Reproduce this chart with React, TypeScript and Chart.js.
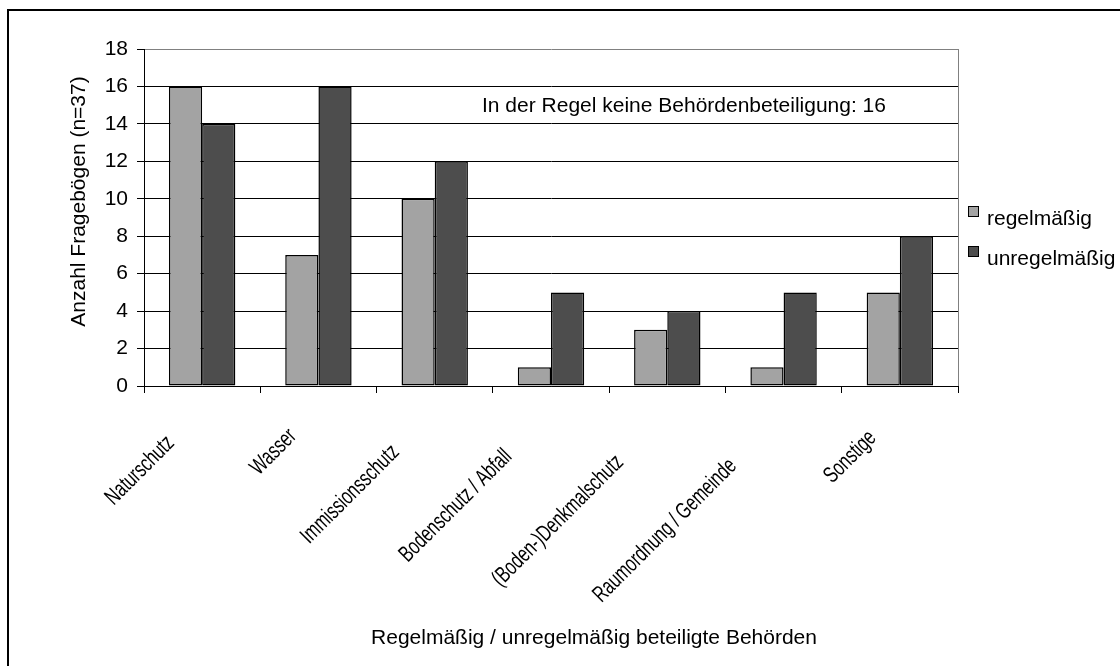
import { useEffect, useRef } from "react";
import { Chart, registerables } from "chart.js";

Chart.register(...registerables);

const FONT = "'Liberation Sans', Arial, sans-serif";

const categories = [
  "Naturschutz",
  "Wasser",
  "Immissionsschutz",
  "Bodenschutz / Abfall",
  "(Boden-)Denkmalschutz",
  "Raumordnung / Gemeinde",
  "Sonstige",
];
const seriesNames = ["regelmäßig", "unregelmäßig"];
const regelmaessig = [16, 7, 10, 1, 3, 1, 5];
const unregelmaessig = [14, 16, 12, 5, 4, 5, 8];
const seriesColors = ["#a3a3a3", "#4d4d4d"];
const yMin = 0;
const yMax = 18;
const yStep = 2;
const yAxisTitle = "Anzahl Fragebögen (n=37)";
const xAxisTitle = "Regelmäßig / unregelmäßig beteiligte Behörden";
const noteText = "In der Regel keine Behördenbeteiligung: 16";
const noteValue = 15;

const decor = {
  id: "decor",
  afterDraw(chart: any) {
    const { ctx, chartArea: ca, scales } = chart;
    const xs = scales.x;
    const ys = scales.y;
    ctx.save();

    // grey plot-area right border
    ctx.strokeStyle = "#808080";
    ctx.lineWidth = 1;
    ctx.beginPath();
    ctx.moveTo(Math.round(ca.right) + 0.5, ca.top);
    ctx.lineTo(Math.round(ca.right) + 0.5, ca.bottom);
    ctx.stroke();

    ctx.fillStyle = "#000";

    // rotated, condensed category labels
    ctx.font = `23px ${FONT}`;
    const sx = 0.71;
    const h = 15;
    categories.forEach((lab, i) => {
      const cx = xs.getPixelForTick(i);
      const w = ctx.measureText(lab).width * sx;
      const dx = 0.7071 * (w + h);
      const xmax = cx - 8.3 - 0.257 * dx;
      const ymin = ca.bottom + 25.5 + 0.307 * dx;
      ctx.save();
      ctx.translate(xmax, ymin + 0.7071 * h);
      ctx.rotate(-Math.PI / 4);
      ctx.scale(sx, 1);
      ctx.textAlign = "right";
      ctx.textBaseline = "alphabetic";
      ctx.fillText(lab, 0, 0);
      ctx.restore();
    });

    // y axis title
    ctx.font = `21px ${FONT}`;
    ctx.save();
    ctx.translate(ca.left - 65, (ca.top + ca.bottom) / 2 - 16);
    ctx.rotate(-Math.PI / 2);
    ctx.textAlign = "center";
    ctx.textBaseline = "middle";
    ctx.fillText(yAxisTitle, 0, 0);
    ctx.restore();

    // x axis title
    ctx.textAlign = "center";
    ctx.textBaseline = "middle";
    ctx.fillText(xAxisTitle, (ca.left + ca.right) / 2 + 43, ca.bottom + 252);

    // note inside plot
    ctx.textAlign = "left";
    ctx.textBaseline = "alphabetic";
    ctx.fillText(noteText, ca.left + 338, ys.getPixelForValue(noteValue) + 7);

    // legend
    const midY = (ca.top + ca.bottom) / 2;
    seriesNames.forEach((name, i) => {
      const base = midY + 7.5 + i * 40;
      ctx.fillStyle = seriesColors[i];
      ctx.fillRect(ca.right + 10, base - 19, 10, 10);
      ctx.strokeStyle = "#000";
      ctx.lineWidth = 1;
      ctx.strokeRect(ca.right + 10.5, base - 18.5, 10, 10);
      ctx.fillStyle = "#000";
      ctx.textAlign = "left";
      ctx.fillText(name, ca.right + 29, base);
    });

    ctx.restore();
  },
};

export default function App() {
  const ref = useRef<HTMLCanvasElement>(null);

  useEffect(() => {
    const chart = new Chart(ref.current as HTMLCanvasElement, {
      type: "bar",
      data: {
        labels: categories,
        datasets: [
          {
            label: seriesNames[0],
            data: regelmaessig,
            backgroundColor: seriesColors[0],
            borderColor: "#000",
            borderWidth: 1.5,
            borderSkipped: false,
            categoryPercentage: 0.571,
            barPercentage: 1,
          },
          {
            label: seriesNames[1],
            data: unregelmaessig,
            backgroundColor: seriesColors[1],
            borderColor: "#000",
            borderWidth: 1.5,
            borderSkipped: false,
            categoryPercentage: 0.571,
            barPercentage: 1,
          },
        ],
      },
      options: {
        responsive: false,
        animation: false,
        layout: { padding: { left: 0, top: 49, right: 162, bottom: 0 } },
        plugins: {
          legend: { display: false },
          tooltip: { enabled: false },
        },
        scales: {
          x: {
            offset: true,
            grid: {
              offset: true,
              drawOnChartArea: false,
              drawTicks: true,
              tickLength: 7,
              color: "#000",
            },
            border: { display: true, color: "#000", width: 1 },
            ticks: { display: false },
            afterFit: (scale: any) => {
              scale.height = 280;
            },
          },
          y: {
            min: yMin,
            max: yMax,
            ticks: {
              stepSize: yStep,
              color: "#000",
              padding: 9,
              font: { family: FONT, size: 21 },
            },
            grid: {
              color: (c: any) => (c.tick && c.tick.value === yMax ? "#808080" : "#000"),
              tickColor: "#000",
              tickLength: 7,
              drawTicks: true,
            },
            border: { display: true, color: "#000", width: 1 },
            afterFit: (scale: any) => {
              scale.width = 144;
            },
          },
        },
      },
      plugins: [decor],
    });
    return () => chart.destroy();
  }, []);

  return (
    <div
      style={{
        position: "fixed",
        left: 0,
        top: 0,
        width: 1120,
        height: 666,
        overflow: "hidden",
        background: "#fff",
      }}
    >
      <div
        style={{
          position: "absolute",
          left: 7,
          top: 9,
          width: 1300,
          height: 900,
          border: "2px solid #000",
          boxSizing: "border-box",
        }}
      />
      <canvas
        ref={ref}
        width={1120}
        height={666}
        style={{ position: "absolute", left: 0, top: 0, width: 1120, height: 666 }}
      />
    </div>
  );
}
